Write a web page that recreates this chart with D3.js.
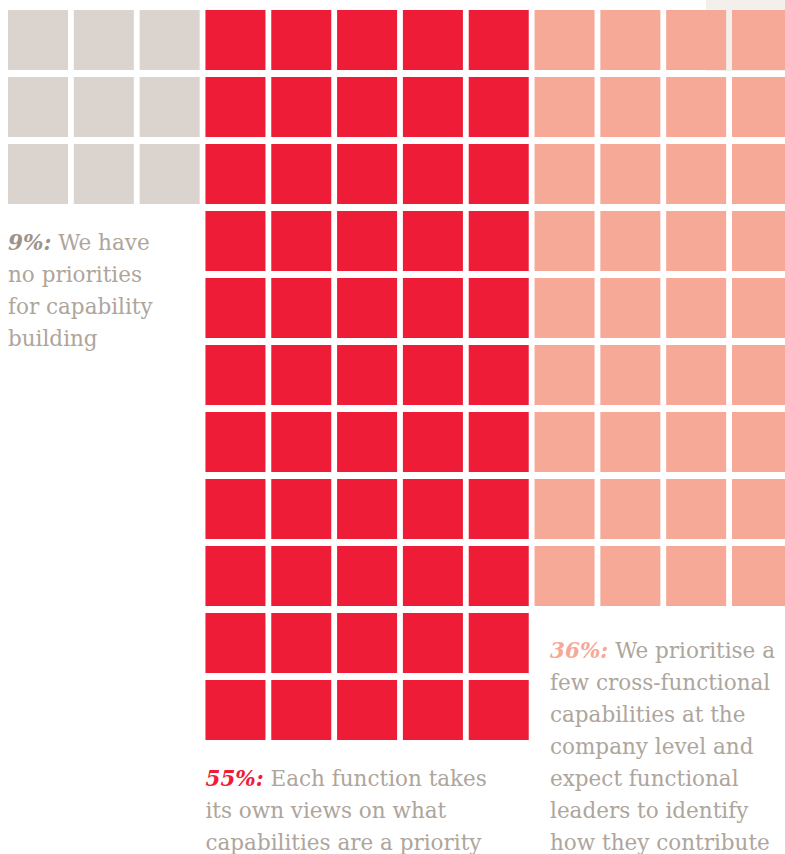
<!DOCTYPE html>
<html>
<head>
<meta charset="utf-8">
<script src="https://cdn.jsdelivr.net/npm/d3@7/dist/d3.min.js"></script>
<style>
  html, body { margin: 0; padding: 0; background: #ffffff; overflow: hidden; }
  svg { display: block; }
</style>
</head>
<body>
<svg id="chart" width="785" height="854"></svg>
<script>
// ---- data ----
const categories = ["none", "function", "company"];
const percents = [9, 55, 36];
const pctLabels = ["9%:", "55%:", "36%:"];
const descLines = [
  ["We have", "no priorities", "for capability", "building"],
  ["Each function takes", "its own views on what", "capabilities are a priority"],
  ["We prioritise a", "few cross-functional", "capabilities at the", "company level and", "expect functional", "leaders to identify", "how they contribute"]
];
const columnsPerGroup = [3, 5, 4];
const fills = ["#dbd3ce", "#ee1c37", "#f6a996"];
const pctColors = ["#9d938b", "#ee1c37", "#f6a996"];
const textColor = "#aea59c";

// ---- layout ----
const W = 785, H = 854;
const svg = d3.select("#chart");

const totalCols = d3.sum(columnsPerGroup);
const rowsPerGroup = percents.map((p, i) => p / columnsPerGroup[i]);
const maxRows = d3.max(rowsPerGroup);

const x = d3.scaleBand().domain(d3.range(totalCols)).range([8, 792]).paddingInner(5.8 / 65.8).paddingOuter(0);
const y = d3.scaleBand().domain(d3.range(maxRows)).range([10, 740]).paddingInner(7 / 67).paddingOuter(0);

// decorative light panel at top right
svg.append("rect").attr("x", 706).attr("y", 0).attr("width", W - 706).attr("height", 71).attr("fill", "#f3efec");

// build cells
const cells = [];
let colStart = 0;
percents.forEach((p, g) => {
  const c = columnsPerGroup[g];
  for (let k = 0; k < p; k++) {
    cells.push({ group: g, col: colStart + (k % c), row: Math.floor(k / c) });
  }
  colStart += c;
});

svg.append("g").selectAll("rect").data(cells).join("rect")
  .attr("x", d => x(d.col))
  .attr("y", d => y(d.row))
  .attr("width", x.bandwidth())
  .attr("height", y.bandwidth())
  .attr("fill", d => fills[d.group]);

// labels
const fontFamily = "'DejaVu Serif', serif";
const fontSize = 21.5;
const lineH = 32;
const groupStartCols = [0, columnsPerGroup[0], columnsPerGroup[0] + columnsPerGroup[1]];
const labelX = [8, x(groupStartCols[1]), 550];
const labelGap = [46, 46, 52];
const firstBaseline = percents.map((p, g) => y(rowsPerGroup[g] - 1) + y.bandwidth() + labelGap[g]);

percents.forEach((p, g) => {
  const t = svg.append("text")
    .attr("x", labelX[g])
    .attr("y", firstBaseline[g])
    .attr("font-family", fontFamily)
    .attr("font-size", fontSize)
    .attr("fill", textColor);
  descLines[g].forEach((line, i) => {
    const ts = t.append("tspan").attr("x", labelX[g]).attr("y", firstBaseline[g] + i * lineH);
    if (i === 0) {
      ts.append("tspan").attr("font-weight", "bold").attr("font-style", "italic")
        .attr("fill", pctColors[g]).text(pctLabels[g]);
      ts.append("tspan").text(" " + line);
    } else {
      ts.text(line);
    }
  });
});
</script>
</body>
</html>
